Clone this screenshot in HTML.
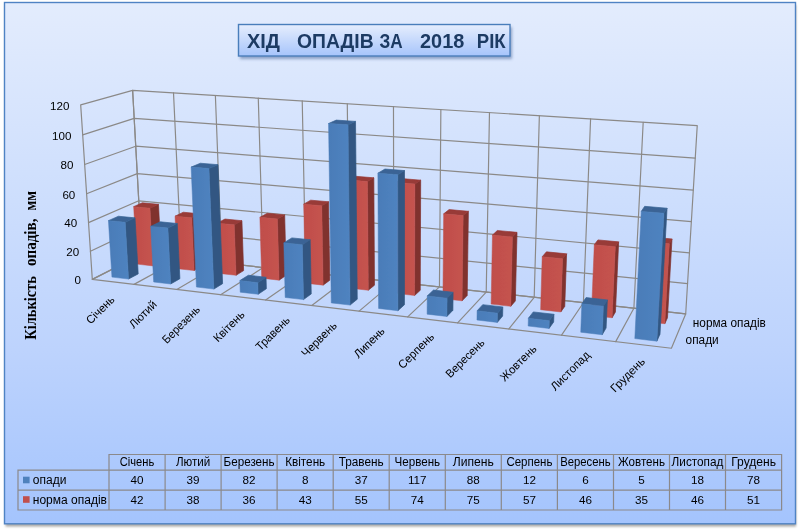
<!DOCTYPE html>
<html><head><meta charset="utf-8"><title>chart</title>
<style>html,body{margin:0;padding:0;background:#fff;}body{width:800px;height:530px;position:relative;overflow:hidden;font-family:"Liberation Sans",sans-serif;}</style>
</head><body>
<svg width="800" height="530" viewBox="0 0 800 530" style="position:absolute;left:0;top:0;will-change:transform">
<defs>
<linearGradient id="bg" x1="0" y1="0" x2="0" y2="1"><stop offset="0" stop-color="#e3ecfd"/><stop offset="0.38" stop-color="#cddefd"/><stop offset="0.667" stop-color="#bdd3fd"/><stop offset="1" stop-color="#a4c4fd"/></linearGradient>
<linearGradient id="tb" x1="0" y1="0" x2="0" y2="1"><stop offset="0" stop-color="#e6eefd"/><stop offset="1" stop-color="#a6c4fb"/></linearGradient>
<linearGradient id="bfg" x1="0" y1="0" x2="1" y2="0"><stop offset="0" stop-color="#4a7cb8"/><stop offset="1" stop-color="#4f83c0"/></linearGradient>
<linearGradient id="rfg" x1="0" y1="0" x2="1" y2="0"><stop offset="0" stop-color="#c04e4a"/><stop offset="1" stop-color="#c5534f"/></linearGradient>
<filter id="sh" x="-5%" y="-5%" width="112%" height="115%"><feGaussianBlur stdDeviation="1.2"/></filter>
<filter id="soft" x="0" y="0" width="100%" height="100%" filterUnits="userSpaceOnUse"><feGaussianBlur stdDeviation="0.4"/></filter>
<filter id="sh2" x="-5%" y="-20%" width="112%" height="150%"><feGaussianBlur stdDeviation="1.5"/></filter>
</defs>
<g filter="url(#soft)">
<rect x="0" y="0" width="800" height="530" fill="#fff"/>
<rect x="5.5" y="5" width="790.6" height="521.6" fill="#6a6660" opacity="0.55" filter="url(#sh)"/>
<rect x="4.5" y="2.5" width="791" height="521.3" fill="url(#bg)" stroke="#5083c4" stroke-width="1.4"/>
<rect x="240" y="27" width="272" height="32" fill="#3a5a90" opacity="0.5" filter="url(#sh2)"/>
<rect x="238.5" y="24.5" width="271.5" height="31.5" fill="url(#tb)" stroke="#4a7ebb" stroke-width="1.4"/>
<g font-family="Liberation Sans, sans-serif" font-weight="bold" font-size="20.6px" fill="#1f3a63">
<text x="247.0" y="47.9" textLength="33.0" lengthAdjust="spacingAndGlyphs">ХІД</text>
<text x="297.0" y="47.9" textLength="76.7" lengthAdjust="spacingAndGlyphs">ОПАДІВ</text>
<text x="379.4" y="47.9" textLength="23.2" lengthAdjust="spacingAndGlyphs">ЗА</text>
<text x="420.0" y="47.9" textLength="44.3" lengthAdjust="spacingAndGlyphs">2018</text>
<text x="476.8" y="47.9" textLength="28.9" lengthAdjust="spacingAndGlyphs">РІК</text>
</g>
<g fill="none" stroke="#8b8987" stroke-width="1.18" stroke-linejoin="round" stroke-linecap="round">
<polygon points="92.31,279.39 80.69,104.84 132.62,90.33 141.74,254.19"/>
<polygon points="141.74,254.19 132.62,90.33 697.24,125.60 685.69,313.96"/>
<polygon points="92.31,279.39 141.74,254.19 685.69,313.96 671.42,348.26"/>
<polyline points="90.43,251.18 140.26,227.65 687.55,283.60"/>
<polyline points="88.53,222.63 138.77,200.81 689.44,252.84"/>
<polyline points="86.61,193.72 137.26,173.67 691.35,221.66"/>
<polyline points="84.66,164.46 135.73,146.21 693.29,190.07"/>
<polyline points="82.68,134.83 134.18,118.43 695.25,158.05"/>
<polyline points="134.04,284.36 181.33,258.54 173.51,92.88"/>
<polyline points="176.81,289.44 221.85,262.99 215.38,95.50"/>
<polyline points="220.66,294.66 263.32,267.55 258.28,98.18"/>
<polyline points="265.63,300.00 305.78,272.22 302.23,100.92"/>
<polyline points="311.76,305.49 349.26,276.99 347.29,103.74"/>
<polyline points="359.10,311.12 393.80,281.89 393.48,106.62"/>
<polyline points="407.70,316.90 439.45,286.90 440.86,109.58"/>
<polyline points="457.61,322.83 486.23,292.05 489.47,112.62"/>
<polyline points="508.87,328.93 534.20,297.32 539.36,115.74"/>
<polyline points="561.56,335.19 583.40,302.72 590.58,118.94"/>
<polyline points="615.72,341.64 633.88,308.27 643.19,122.22"/>
</g>
<polygon fill="#80312e" stroke="#80312e" stroke-width="0.7" stroke-linejoin="round" points="153.07,265.93 161.42,261.47 158.48,204.37 149.98,208.21"/>
<polygon fill="#983a37" stroke="#983a37" stroke-width="0.7" stroke-linejoin="round" points="133.67,206.63 149.98,208.21 158.48,204.37 142.32,202.84"/>
<polygon fill="url(#rfg)" stroke="url(#rfg)" stroke-width="0.5" stroke-linejoin="round" points="136.93,264.11 153.07,265.93 149.98,208.21 133.67,206.63"/>
<polygon fill="#80312e" stroke="#80312e" stroke-width="0.7" stroke-linejoin="round" points="194.06,270.56 202.03,265.99 199.79,213.83 191.71,217.82"/>
<polygon fill="#983a37" stroke="#983a37" stroke-width="0.7" stroke-linejoin="round" points="175.02,216.19 191.71,217.82 199.79,213.83 183.27,212.23"/>
<polygon fill="url(#rfg)" stroke="url(#rfg)" stroke-width="0.5" stroke-linejoin="round" points="177.55,268.70 194.06,270.56 191.71,217.82 175.02,216.19"/>
<polygon fill="#80312e" stroke="#80312e" stroke-width="0.7" stroke-linejoin="round" points="236.05,275.31 243.60,270.62 241.91,220.69 234.25,224.81"/>
<polygon fill="#983a37" stroke="#983a37" stroke-width="0.7" stroke-linejoin="round" points="217.16,223.13 234.25,224.81 241.91,220.69 224.99,219.05"/>
<polygon fill="url(#rfg)" stroke="url(#rfg)" stroke-width="0.5" stroke-linejoin="round" points="219.13,273.40 236.05,275.31 234.25,224.81 217.16,223.13"/>
<polygon fill="#80312e" stroke="#80312e" stroke-width="0.7" stroke-linejoin="round" points="279.05,280.16 286.18,275.36 284.67,214.93 277.43,219.04"/>
<polygon fill="#983a37" stroke="#983a37" stroke-width="0.7" stroke-linejoin="round" points="259.89,217.36 277.43,219.04 284.67,214.93 267.30,213.29"/>
<polygon fill="url(#rfg)" stroke="url(#rfg)" stroke-width="0.5" stroke-linejoin="round" points="261.73,278.21 279.05,280.16 277.43,219.04 259.89,217.36"/>
<polygon fill="#80312e" stroke="#80312e" stroke-width="0.7" stroke-linejoin="round" points="323.12,285.14 329.78,280.22 328.56,201.77 321.76,205.78"/>
<polygon fill="#983a37" stroke="#983a37" stroke-width="0.7" stroke-linejoin="round" points="303.71,204.14 321.76,205.78 328.56,201.77 310.70,200.17"/>
<polygon fill="url(#rfg)" stroke="url(#rfg)" stroke-width="0.5" stroke-linejoin="round" points="305.36,283.13 323.12,285.14 321.76,205.78 303.71,204.14"/>
<polygon fill="#80312e" stroke="#80312e" stroke-width="0.7" stroke-linejoin="round" points="368.28,290.24 374.46,285.19 373.82,177.81 367.48,181.58"/>
<polygon fill="#983a37" stroke="#983a37" stroke-width="0.7" stroke-linejoin="round" points="348.86,180.03 367.48,181.58 373.82,177.81 355.40,176.29"/>
<polygon fill="url(#rfg)" stroke="url(#rfg)" stroke-width="0.5" stroke-linejoin="round" points="350.08,288.18 368.28,290.24 367.48,181.58 348.86,180.03"/>
<polygon fill="#80312e" stroke="#80312e" stroke-width="0.7" stroke-linejoin="round" points="414.58,295.47 420.25,290.29 420.68,180.15 414.87,184.01"/>
<polygon fill="#983a37" stroke="#983a37" stroke-width="0.7" stroke-linejoin="round" points="395.76,182.43 414.87,184.01 420.68,180.15 401.79,178.61"/>
<polygon fill="url(#rfg)" stroke="url(#rfg)" stroke-width="0.5" stroke-linejoin="round" points="395.92,293.36 414.58,295.47 414.87,184.01 395.76,182.43"/>
<polygon fill="#80312e" stroke="#80312e" stroke-width="0.7" stroke-linejoin="round" points="462.06,300.83 467.20,295.52 468.38,211.32 463.16,215.61"/>
<polygon fill="#983a37" stroke="#983a37" stroke-width="0.7" stroke-linejoin="round" points="443.66,213.85 463.16,215.61 468.38,211.32 449.11,209.60"/>
<polygon fill="url(#rfg)" stroke="url(#rfg)" stroke-width="0.5" stroke-linejoin="round" points="442.92,298.67 462.06,300.83 463.16,215.61 443.66,213.85"/>
<polygon fill="#80312e" stroke="#80312e" stroke-width="0.7" stroke-linejoin="round" points="510.77,306.33 515.35,300.88 517.02,232.37 512.40,236.98"/>
<polygon fill="#983a37" stroke="#983a37" stroke-width="0.7" stroke-linejoin="round" points="492.46,235.09 512.40,236.98 517.02,232.37 497.32,230.53"/>
<polygon fill="url(#rfg)" stroke="url(#rfg)" stroke-width="0.5" stroke-linejoin="round" points="491.14,304.11 510.77,306.33 512.40,236.98 492.46,235.09"/>
<polygon fill="#80312e" stroke="#80312e" stroke-width="0.7" stroke-linejoin="round" points="560.76,311.98 564.74,306.38 566.59,253.82 562.59,258.77"/>
<polygon fill="#983a37" stroke="#983a37" stroke-width="0.7" stroke-linejoin="round" points="542.19,256.75 562.59,258.77 566.59,253.82 546.44,251.85"/>
<polygon fill="url(#rfg)" stroke="url(#rfg)" stroke-width="0.5" stroke-linejoin="round" points="540.61,309.70 560.76,311.98 562.59,258.77 542.19,256.75"/>
<polygon fill="#80312e" stroke="#80312e" stroke-width="0.7" stroke-linejoin="round" points="612.08,317.77 615.43,312.03 618.66,241.86 615.31,246.73"/>
<polygon fill="#983a37" stroke="#983a37" stroke-width="0.7" stroke-linejoin="round" points="594.29,244.74 615.31,246.73 618.66,241.86 597.91,239.92"/>
<polygon fill="url(#rfg)" stroke="url(#rfg)" stroke-width="0.5" stroke-linejoin="round" points="591.39,315.44 612.08,317.77 615.31,246.73 594.29,244.74"/>
<polygon fill="#80312e" stroke="#80312e" stroke-width="0.7" stroke-linejoin="round" points="664.78,323.72 667.47,317.82 671.99,238.94 669.33,243.85"/>
<polygon fill="#983a37" stroke="#983a37" stroke-width="0.7" stroke-linejoin="round" points="647.69,241.84 669.33,243.85 671.99,238.94 650.63,236.99"/>
<polygon fill="url(#rfg)" stroke="url(#rfg)" stroke-width="0.5" stroke-linejoin="round" points="643.53,321.32 664.78,323.72 669.33,243.85 647.69,241.84"/>
<polygon fill="#315782" stroke="#315782" stroke-width="0.7" stroke-linejoin="round" points="128.52,279.05 138.20,273.88 135.02,217.87 125.19,222.35"/>
<polygon fill="#3a6495" stroke="#3a6495" stroke-width="0.7" stroke-linejoin="round" points="108.44,220.65 125.19,222.35 135.02,217.87 118.45,216.22"/>
<polygon fill="url(#bfg)" stroke="url(#bfg)" stroke-width="0.5" stroke-linejoin="round" points="111.95,277.11 128.52,279.05 125.19,222.35 108.44,220.65"/>
<polygon fill="#315782" stroke="#315782" stroke-width="0.7" stroke-linejoin="round" points="170.65,284.01 179.88,278.71 177.25,223.50 167.87,228.11"/>
<polygon fill="#3a6495" stroke="#3a6495" stroke-width="0.7" stroke-linejoin="round" points="150.70,226.36 167.87,228.11 177.25,223.50 160.27,221.80"/>
<polygon fill="url(#bfg)" stroke="url(#bfg)" stroke-width="0.5" stroke-linejoin="round" points="153.68,282.01 170.65,284.01 167.87,228.11 150.70,226.36"/>
<polygon fill="#315782" stroke="#315782" stroke-width="0.7" stroke-linejoin="round" points="213.83,289.08 222.59,283.65 218.00,164.68 208.94,168.58"/>
<polygon fill="#3a6495" stroke="#3a6495" stroke-width="0.7" stroke-linejoin="round" points="191.12,167.10 208.94,168.58 218.00,164.68 200.37,163.23"/>
<polygon fill="url(#bfg)" stroke="url(#bfg)" stroke-width="0.5" stroke-linejoin="round" points="196.43,287.04 213.83,289.08 208.94,168.58 191.12,167.10"/>
<polygon fill="#315782" stroke="#315782" stroke-width="0.7" stroke-linejoin="round" points="258.10,294.29 266.36,288.72 266.03,277.24 257.74,282.67"/>
<polygon fill="#3a6495" stroke="#3a6495" stroke-width="0.7" stroke-linejoin="round" points="239.85,280.62 257.74,282.67 266.03,277.24 248.35,275.25"/>
<polygon fill="url(#bfg)" stroke="url(#bfg)" stroke-width="0.5" stroke-linejoin="round" points="240.26,292.19 258.10,294.29 257.74,282.67 239.85,280.62"/>
<polygon fill="#315782" stroke="#315782" stroke-width="0.7" stroke-linejoin="round" points="303.49,299.62 311.24,293.91 310.17,239.74 302.32,244.76"/>
<polygon fill="#3a6495" stroke="#3a6495" stroke-width="0.7" stroke-linejoin="round" points="283.82,242.86 302.32,244.76 310.17,239.74 291.88,237.90"/>
<polygon fill="url(#bfg)" stroke="url(#bfg)" stroke-width="0.5" stroke-linejoin="round" points="285.20,297.47 303.49,299.62 302.32,244.76 283.82,242.86"/>
<polygon fill="#315782" stroke="#315782" stroke-width="0.7" stroke-linejoin="round" points="350.06,305.10 357.25,299.23 355.52,121.39 348.02,124.86"/>
<polygon fill="#3a6495" stroke="#3a6495" stroke-width="0.7" stroke-linejoin="round" points="328.54,123.53 348.02,124.86 355.52,121.39 336.28,120.10"/>
<polygon fill="url(#bfg)" stroke="url(#bfg)" stroke-width="0.5" stroke-linejoin="round" points="331.29,302.89 350.06,305.10 348.02,124.86 328.54,123.53"/>
<polygon fill="#315782" stroke="#315782" stroke-width="0.7" stroke-linejoin="round" points="397.85,310.72 404.45,304.70 404.51,170.59 397.71,174.81"/>
<polygon fill="#3a6495" stroke="#3a6495" stroke-width="0.7" stroke-linejoin="round" points="377.89,173.20 397.71,174.81 404.51,170.59 384.94,169.04"/>
<polygon fill="url(#bfg)" stroke="url(#bfg)" stroke-width="0.5" stroke-linejoin="round" points="378.58,308.45 397.85,310.72 397.71,174.81 377.89,173.20"/>
<polygon fill="#315782" stroke="#315782" stroke-width="0.7" stroke-linejoin="round" points="446.90,316.48 452.89,310.30 453.09,292.25 447.08,298.19"/>
<polygon fill="#3a6495" stroke="#3a6495" stroke-width="0.7" stroke-linejoin="round" points="427.22,295.95 447.08,298.19 453.09,292.25 433.48,290.07"/>
<polygon fill="url(#bfg)" stroke="url(#bfg)" stroke-width="0.5" stroke-linejoin="round" points="427.12,314.16 446.90,316.48 447.08,298.19 427.22,295.95"/>
<polygon fill="#315782" stroke="#315782" stroke-width="0.7" stroke-linejoin="round" points="497.27,322.41 502.61,316.06 502.80,306.94 497.46,313.17"/>
<polygon fill="#3a6495" stroke="#3a6495" stroke-width="0.7" stroke-linejoin="round" points="477.11,310.82 497.46,313.17 502.80,306.94 482.72,304.66"/>
<polygon fill="url(#bfg)" stroke="url(#bfg)" stroke-width="0.5" stroke-linejoin="round" points="476.96,320.02 497.27,322.41 497.46,313.17 477.11,310.82"/>
<polygon fill="#315782" stroke="#315782" stroke-width="0.7" stroke-linejoin="round" points="549.02,328.49 553.66,321.96 553.91,314.28 549.27,320.70"/>
<polygon fill="#3a6495" stroke="#3a6495" stroke-width="0.7" stroke-linejoin="round" points="528.36,318.28 549.27,320.70 553.91,314.28 533.29,311.93"/>
<polygon fill="url(#bfg)" stroke="url(#bfg)" stroke-width="0.5" stroke-linejoin="round" points="528.15,326.04 549.02,328.49 549.27,320.70 528.36,318.28"/>
<polygon fill="#315782" stroke="#315782" stroke-width="0.7" stroke-linejoin="round" points="602.19,334.74 606.10,328.03 607.35,299.90 603.43,306.22"/>
<polygon fill="#3a6495" stroke="#3a6495" stroke-width="0.7" stroke-linejoin="round" points="581.85,303.84 603.43,306.22 607.35,299.90 586.06,297.59"/>
<polygon fill="url(#bfg)" stroke="url(#bfg)" stroke-width="0.5" stroke-linejoin="round" points="580.75,332.22 602.19,334.74 603.43,306.22 581.85,303.84"/>
<polygon fill="#315782" stroke="#315782" stroke-width="0.7" stroke-linejoin="round" points="656.85,341.17 659.99,334.27 667.05,208.21 663.94,213.31"/>
<polygon fill="#3a6495" stroke="#3a6495" stroke-width="0.7" stroke-linejoin="round" points="641.24,211.38 663.94,213.31 667.05,208.21 644.68,206.34"/>
<polygon fill="url(#bfg)" stroke="url(#bfg)" stroke-width="0.5" stroke-linejoin="round" points="634.81,338.58 656.85,341.17 663.94,213.31 641.24,211.38"/>
<g font-family="Liberation Sans, sans-serif" font-size="11.6px" fill="#000" text-anchor="end">
<text x="81.0" y="284.2">0</text>
<text x="79.1" y="256.0">20</text>
<text x="77.2" y="227.4">40</text>
<text x="75.3" y="198.5">60</text>
<text x="73.4" y="169.3">80</text>
<text x="71.4" y="139.6">100</text>
<text x="69.4" y="109.6">120</text>
</g>
<g font-family="Liberation Sans, sans-serif" font-size="11.6px" fill="#000" text-anchor="end">
<text transform="translate(115.3,300.3) rotate(-45) scale(0.965,1)" x="0" y="0">Січень</text>
<text transform="translate(157.6,305.2) rotate(-45) scale(0.985,1)" x="0" y="0">Лютий</text>
<text transform="translate(200.9,310.2) rotate(-45) scale(0.950,1)" x="0" y="0">Березень</text>
<text transform="translate(245.3,315.4) rotate(-45) scale(0.975,1)" x="0" y="0">Квітень</text>
<text transform="translate(290.8,320.7) rotate(-45) scale(0.978,1)" x="0" y="0">Травень</text>
<text transform="translate(337.6,326.2) rotate(-45) scale(0.978,1)" x="0" y="0">Червень</text>
<text transform="translate(385.5,331.8) rotate(-45) scale(0.975,1)" x="0" y="0">Липень</text>
<text transform="translate(434.8,337.5) rotate(-45) scale(0.975,1)" x="0" y="0">Серпень</text>
<text transform="translate(485.4,343.5) rotate(-45) scale(0.958,1)" x="0" y="0">Вересень</text>
<text transform="translate(537.3,349.5) rotate(-45) scale(0.976,1)" x="0" y="0">Жовтень</text>
<text transform="translate(590.7,355.8) rotate(-45) scale(0.985,1)" x="0" y="0">Листопад</text>
<text transform="translate(645.7,362.2) rotate(-45) scale(1.010,1)" x="0" y="0">Грудень</text>
</g>
<g font-family="Liberation Sans, sans-serif" font-size="12px" fill="#000">
<text transform="translate(692.8,326.9) scale(0.985,1)">норма опадів</text>
<text transform="translate(685.6,343.8) scale(0.985,1)">опади</text>
</g>
<text transform="translate(35.5,339.8) rotate(-90)" font-family="Liberation Serif, serif" font-weight="bold" font-size="16.5px" fill="#000">
<tspan x="0" textLength="63.8" lengthAdjust="spacingAndGlyphs">Кількість</tspan><tspan x="73.7" textLength="47.6" lengthAdjust="spacingAndGlyphs">опадів,</tspan><tspan x="129.3" textLength="19.6" lengthAdjust="spacingAndGlyphs">мм</tspan></text>
<g fill="none" stroke="#8b898b" stroke-width="1.2">
<path d="M109.0 454.5 H781.6 V510.0 H18.0 V470.2 H109.0 Z"/>
<path d="M109.0 470.2 H781.6 M18.0 490.2 H781.6"/>
<path d="M109.0 470.2 V510.0 M165.1 454.5 V510.0 M221.1 454.5 V510.0 M277.1 454.5 V510.0 M333.2 454.5 V510.0 M389.2 454.5 V510.0 M445.3 454.5 V510.0 M501.3 454.5 V510.0 M557.4 454.5 V510.0 M613.5 454.5 V510.0 M669.5 454.5 V510.0 M725.5 454.5 V510.0 "/>
</g>
<g font-family="Liberation Sans, sans-serif" font-size="11.7px" fill="#000" text-anchor="middle">
<text font-size="12.2px" transform="translate(137.0,465.9) scale(0.914,1)">Січень</text>
<text x="137.0" y="483.7">40</text>
<text x="137.0" y="503.5">42</text>
<text font-size="12.2px" transform="translate(193.1,465.9) scale(0.951,1)">Лютий</text>
<text x="193.1" y="483.7">39</text>
<text x="193.1" y="503.5">38</text>
<text font-size="12.2px" transform="translate(249.1,465.9) scale(0.956,1)">Березень</text>
<text x="249.1" y="483.7">82</text>
<text x="249.1" y="503.5">36</text>
<text font-size="12.2px" transform="translate(305.2,465.9) scale(0.964,1)">Квітень</text>
<text x="305.2" y="483.7">8</text>
<text x="305.2" y="503.5">43</text>
<text font-size="12.2px" transform="translate(361.2,465.9) scale(0.967,1)">Травень</text>
<text x="361.2" y="483.7">37</text>
<text x="361.2" y="503.5">55</text>
<text font-size="12.2px" transform="translate(417.3,465.9) scale(0.952,1)">Червень</text>
<text x="417.3" y="483.7">117</text>
<text x="417.3" y="503.5">74</text>
<text font-size="12.2px" transform="translate(473.3,465.9) scale(0.996,1)">Липень</text>
<text x="473.3" y="483.7">88</text>
<text x="473.3" y="503.5">75</text>
<text font-size="12.2px" transform="translate(529.4,465.9) scale(0.943,1)">Серпень</text>
<text x="529.4" y="483.7">12</text>
<text x="529.4" y="503.5">57</text>
<text font-size="12.2px" transform="translate(585.4,465.9) scale(0.928,1)">Вересень</text>
<text x="585.4" y="483.7">6</text>
<text x="585.4" y="503.5">46</text>
<text font-size="12.2px" transform="translate(641.5,465.9) scale(0.951,1)">Жовтень</text>
<text x="641.5" y="483.7">5</text>
<text x="641.5" y="503.5">35</text>
<text font-size="12.2px" transform="translate(697.5,465.9) scale(0.967,1)">Листопад</text>
<text x="697.5" y="483.7">18</text>
<text x="697.5" y="503.5">46</text>
<text font-size="12.2px" transform="translate(753.6,465.9) scale(0.993,1)">Грудень</text>
<text x="753.6" y="483.7">78</text>
<text x="753.6" y="503.5">51</text>
</g>
<rect x="23" y="476.7" width="6.6" height="6.6" fill="#4f81bd"/>
<rect x="23" y="496.2" width="6.6" height="6.6" fill="#c0504d"/>
<g font-family="Liberation Sans, sans-serif" font-size="11.8px" fill="#000">
<text font-size="12px" x="32.8" y="483.7">опади</text>
<text font-size="12px" transform="translate(32.8,503.5) scale(1.0,1)">норма опадів</text>
</g>
</g>
</svg>
</body></html>
